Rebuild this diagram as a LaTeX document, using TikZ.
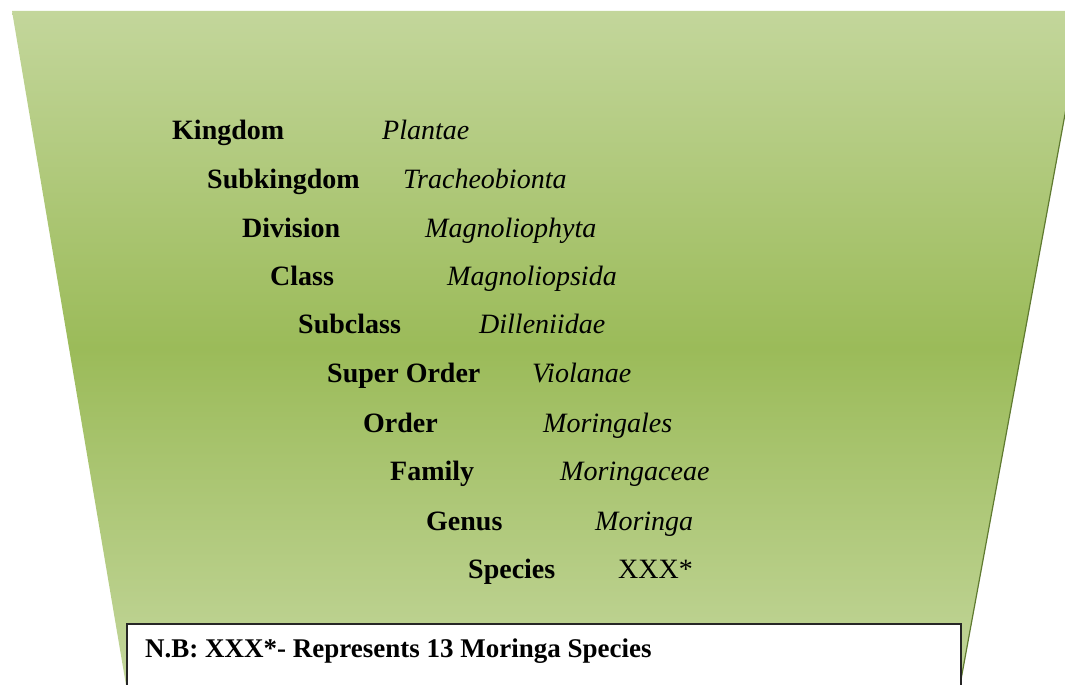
\documentclass[tikz,border=0pt]{standalone}
\usepackage{fontspec}
\setmainfont{Liberation Serif}
\usepackage{tikz}

\definecolor{leafLight}{HTML}{C3D69B}
\definecolor{leafDark}{HTML}{9BBB59}
\definecolor{leafEdge}{HTML}{5F7A30}

\tikzset{
  rank/.style={anchor=base west, inner sep=0pt, font=\fontsize{28}{34}\selectfont\bfseries},
  taxon/.style={anchor=base west, inner sep=0pt, font=\fontsize{28}{34}\selectfont\itshape},
  note/.style={anchor=base west, inner sep=0pt, font=\fontsize{27}{32}\selectfont\bfseries},
}

\begin{document}
\begin{tikzpicture}[x=1pt, y=-1pt]
  \useasboundingbox (0,0) rectangle (1065,685);
  \clip (0,0) rectangle (1065,685);
  % Trapeze vert (degrade vertical)
  \shade[top color=leafLight, bottom color=leafLight, middle color=leafDark]
    (12,11) -- (1084,11) -- (960,685) -- (126,685) -- cycle;
  \draw[leafEdge, line width=1.2pt] (1084,11) -- (960,685);
  % Rangs taxonomiques
  \node[rank] (kingdom) at (172,139) {Kingdom};
  \node[taxon] (plantae) at (382,139) {Plantae};
  \node[rank] (subkingdom) at (207,188) {Subkingdom};
  \node[taxon] (tracheo) at (403,188) {Tracheobionta};
  \node[rank] (division) at (242,237) {Division};
  \node[taxon] (magphyta) at (425,237) {Magnoliophyta};
  \node[rank] (class) at (270,285) {Class};
  \node[taxon] (magpsida) at (447,285) {Magnoliopsida};
  \node[rank] (subclass) at (298,333) {Subclass};
  \node[taxon] (dillen) at (479,333) {Dilleniidae};
  \node[rank] (superorder) at (327,382) {Super Order};
  \node[taxon] (violanae) at (532,382) {Violanae};
  \node[rank] (order) at (363,432) {Order};
  \node[taxon] (moringales) at (543,432) {Moringales};
  \node[rank] (family) at (390,480) {Family};
  \node[taxon] (moringaceae) at (560,480) {Moringaceae};
  \node[rank] (genus) at (426,530) {Genus};
  \node[taxon] (moringa) at (595,530) {Moringa};
  \node[rank] (species) at (468,578) {Species};
  \node[anchor=base west, inner sep=0pt, font=\fontsize{28}{34}\selectfont] (xxx) at (618,578) {XXX*};
  % Encadre de la note
  \draw[fill=white, draw=black!85, line width=1.3pt] (127,624) rectangle (961,700);
  \node[note] (nb) at (145,657) {N.B: XXX*- Represents 13 Moringa Species};
\end{tikzpicture}
\end{document}
